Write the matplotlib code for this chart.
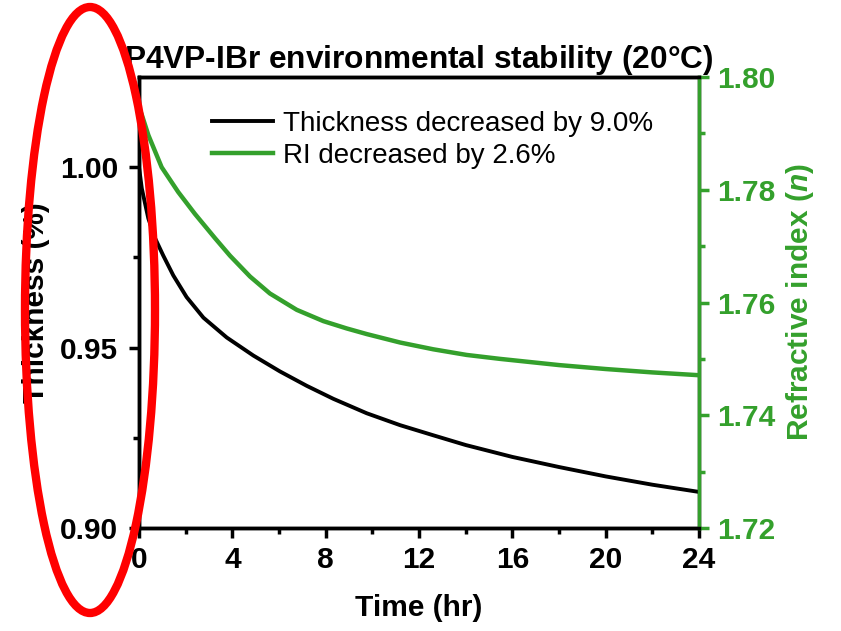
import matplotlib
matplotlib.use("Agg")
import matplotlib.pyplot as plt
from matplotlib.patches import Ellipse

plt.rcParams['font.family'] = ['Liberation Sans', 'DejaVu Sans']
plt.rcParams['mathtext.fontset'] = 'custom'
plt.rcParams['mathtext.rm'] = 'Liberation Sans'
plt.rcParams['mathtext.it'] = 'Liberation Sans:italic'
plt.rcParams['mathtext.bf'] = 'Liberation Sans:bold'
plt.rcParams['mathtext.bfit'] = 'Liberation Sans:italic:bold'

# Data
time_thk = [0, 0.12, 0.4, 0.69, 1.04, 1.47, 2.04, 2.76, 3.76, 4.90, 6.04, 7.19, 8.33,
            9.76, 11.19, 12.61, 14.0, 16.0, 18.0, 20.0, 22.0, 24.0]
thickness = [1.000, 0.9941, 0.9858, 0.9803, 0.9755, 0.9700, 0.9640, 0.9583, 0.9528, 0.9478,
             0.9434, 0.9394, 0.9358, 0.9318, 0.9285, 0.9257, 0.9230, 0.9197, 0.9169, 0.9143,
             0.9120, 0.9100]

time_ri = [0, 0.12, 0.4, 0.97, 1.68, 2.40, 3.26, 3.9, 4.76, 5.61, 6.76, 7.9, 8.9, 9.76,
           11.19, 12.61, 14.04, 15.47, 18.0, 20.0, 22.0, 24.0]
ri = [1.7945, 1.7933, 1.7897, 1.7840, 1.7796, 1.7757, 1.7714, 1.7683, 1.7646, 1.7616,
      1.7587, 1.7567, 1.7554, 1.7544, 1.7529, 1.7517, 1.7507, 1.7500, 1.7489, 1.7482,
      1.7476, 1.7471]

labels = ["Thickness decreased by 9.0%", "RI decreased by 2.6%"]
x_ticks = [0, 4, 8, 12, 16, 20, 24]
y_ticks = [0.90, 0.95, 1.00]
ri_ticks = [1.72, 1.74, 1.76, 1.78, 1.80]

GREEN = '#34A02C'

fig = plt.figure(figsize=(8.41, 6.31), dpi=100)
ax = fig.add_axes([139/841, 1-528/631, (699-139)/841, (528-77)/631])
ax2 = ax.twinx()

l1, = ax.plot(time_thk, thickness, color='black', lw=2.8, solid_joinstyle='round')
l2, = ax2.plot(time_ri, ri, color=GREEN, lw=3.2, solid_joinstyle='round')

ax.set_xlim(0, 24)
ax.set_ylim(0.90, 1.025)
ax2.set_ylim(1.72, 1.80)

ax.set_xticks(x_ticks)
ax.set_xticks([2, 6, 10, 14, 18, 22], minor=True)
ax.set_yticks(y_ticks)
ax.set_yticklabels([f"{v:.2f}" for v in y_ticks])
ax.set_yticks([0.925, 0.975], minor=True)
ax2.set_yticks(ri_ticks)
ax2.set_yticklabels([f"{v:.2f}" for v in ri_ticks])
ax2.set_yticks([1.73, 1.75, 1.77, 1.79], minor=True)

for a in (ax, ax2):
    for s in a.spines.values():
        s.set_linewidth(2.5)
ax2.spines['right'].set_color(GREEN)

ax.tick_params(axis='both', which='major', direction='out', length=7, width=2.5,
               labelsize=21.5, pad=6)
ax.tick_params(axis='both', which='minor', direction='out', length=4, width=2.5)
ax.tick_params(axis='y', pad=8)
ax.tick_params(top=False, right=False)
ax2.tick_params(axis='y', which='major', direction='out', length=7, width=2.5,
                labelsize=21.5, colors=GREEN, pad=6)
ax2.tick_params(axis='y', which='minor', direction='out', length=4, width=2.5, colors=GREEN)
for t in ax.get_xticklabels() + ax.get_yticklabels() + ax2.get_yticklabels():
    t.set_fontweight('bold')

ax.set_xlabel("Time (hr)", fontsize=21.5, fontweight='bold', labelpad=14)
ax.set_ylabel("Thickness (%)", fontsize=21.5, fontweight='bold', labelpad=7)
ax2.set_ylabel(r"Refractive index ($\mathbfit{n}$)", fontsize=21.5, fontweight='bold',
               color=GREEN, labelpad=6)

ax.set_title(r"P4VP-IBr environmental stability (20$\mathregular{°C}$)", fontsize=22.8,
             fontweight='bold', pad=6)

ax.legend([l1, l2], labels, loc='upper left', bbox_to_anchor=(0.11, 0.949), frameon=False,
          fontsize=20, handlelength=2.2, handletextpad=0.35, labelspacing=0.2,
          borderaxespad=0)

ell = Ellipse((90/841, 1-310/631), 130/841, 606/631, transform=fig.transFigure,
              fill=False, edgecolor='#FF0000', lw=6, zorder=10, clip_on=False)
fig.add_artist(ell)

fig.savefig("out.png", dpi=100)
